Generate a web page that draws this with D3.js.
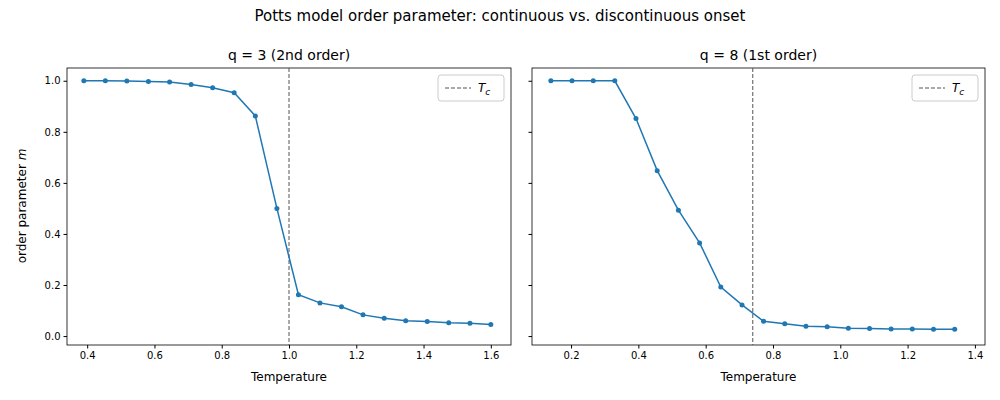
<!DOCTYPE html><html><head><meta charset="utf-8"><script src="https://cdn.jsdelivr.net/npm/d3@7"></script>
<style>body{margin:0;background:#fff}text{font-family:"DejaVu Sans",sans-serif}</style></head><body><svg id="c" width="1000" height="400"></svg>
<script>
const tempsA=[0.39,0.454,0.518,0.582,0.645,0.709,0.773,0.837,0.9,0.964,1.028,1.092,1.156,1.22,1.283,1.347,1.411,1.475,1.538,1.6];
const mA=[1.0,1.0,0.999,0.997,0.995,0.985,0.973,0.953,0.862,0.5,0.162,0.13,0.115,0.083,0.07,0.06,0.057,0.052,0.05,0.045];
const tempsB=[0.14,0.203,0.266,0.33,0.393,0.456,0.519,0.582,0.645,0.708,0.772,0.835,0.898,0.961,1.024,1.087,1.151,1.214,1.277,1.34];
const mB=[1.0,1.0,1.0,1.0,0.852,0.648,0.493,0.365,0.192,0.122,0.058,0.048,0.038,0.036,0.031,0.03,0.028,0.028,0.027,0.027];
const panels=[{t:tempsA,m:mA,tc:1.0,title:"q = 3 (2nd order)",x0:67,x1:511,dom:[0.34,1.66],ticks:[0.4,0.6,0.8,1.0,1.2,1.4,1.6]},
{t:tempsB,m:mB,tc:0.74,title:"q = 8 (1st order)",x0:532,x1:985,dom:[0.084,1.43],ticks:[0.2,0.4,0.6,0.8,1.0,1.2,1.4]}];
const svg=d3.select("#c");
svg.append("text").attr("x",500).attr("y",21).attr("text-anchor","middle").attr("font-size",15).text("Potts model order parameter: continuous vs. discontinuous onset");
const y=d3.scaleLinear().domain([-0.035,1.05]).range([345,68]);
panels.forEach((p,i)=>{
 const x=d3.scaleLinear().domain(p.dom).range([p.x0,p.x1]);
 const g=svg.append("g");
 const xa=g.append("g").attr("transform","translate(0,345)").call(d3.axisBottom(x).tickValues(p.ticks).tickFormat(d3.format(".1f")).tickSizeOuter(0).tickSize(3.5));
 xa.selectAll("text").attr("font-size",10).attr("fill","#000");
 const ya=g.append("g").attr("transform",`translate(${p.x0},0)`).call(d3.axisLeft(y).tickValues([0,0.2,0.4,0.6,0.8,1.0]).tickFormat(i?"":d3.format(".1f")).tickSizeOuter(0).tickSize(3.5));
 ya.selectAll("text").attr("font-size",10).attr("fill","#000");
 g.selectAll(".domain").remove();
 g.append("rect").attr("x",p.x0).attr("y",68).attr("width",p.x1-p.x0).attr("height",277).attr("fill","none").attr("stroke","#000").attr("stroke-width",0.8);
 g.append("line").attr("x1",x(p.tc)).attr("x2",x(p.tc)).attr("y1",68).attr("y2",345).attr("stroke","#555").attr("stroke-dasharray","4,2").attr("stroke-width",1);
 const pts=p.t.map((t,k)=>[t,p.m[k]]);
 g.append("path").attr("d",d3.line().x(d=>x(d[0])).y(d=>y(d[1]))(pts)).attr("fill","none").attr("stroke","#1f77b4").attr("stroke-width",1.5);
 g.selectAll("circle").data(pts).join("circle").attr("cx",d=>x(d[0])).attr("cy",d=>y(d[1])).attr("r",2.5).attr("fill","#1f77b4");
 g.append("text").attr("x",(p.x0+p.x1)/2).attr("y",60).attr("text-anchor","middle").attr("font-size",14).text(p.title);
 g.append("text").attr("x",(p.x0+p.x1)/2).attr("y",381).attr("text-anchor","middle").attr("font-size",12).text("Temperature");
 const lx=p.x1-73;
 g.append("rect").attr("x",lx).attr("y",75).attr("width",66).attr("height",26).attr("rx",3).attr("fill","#fff").attr("stroke","#ccc");
 g.append("line").attr("x1",lx+7).attr("x2",lx+33).attr("y1",88).attr("y2",88).attr("stroke","#555").attr("stroke-dasharray","4,2");
 const tt=g.append("text").attr("x",lx+40).attr("y",92).attr("font-size",12).attr("font-style","italic").text("T");
 tt.append("tspan").attr("font-size",9).attr("dy",3).text("c");
});
const yl=svg.append("text").attr("transform","translate(26,206) rotate(-90)").attr("text-anchor","middle").attr("font-size",12).text("order parameter ");
yl.append("tspan").attr("font-style","italic").text("m");
</script></body></html>
